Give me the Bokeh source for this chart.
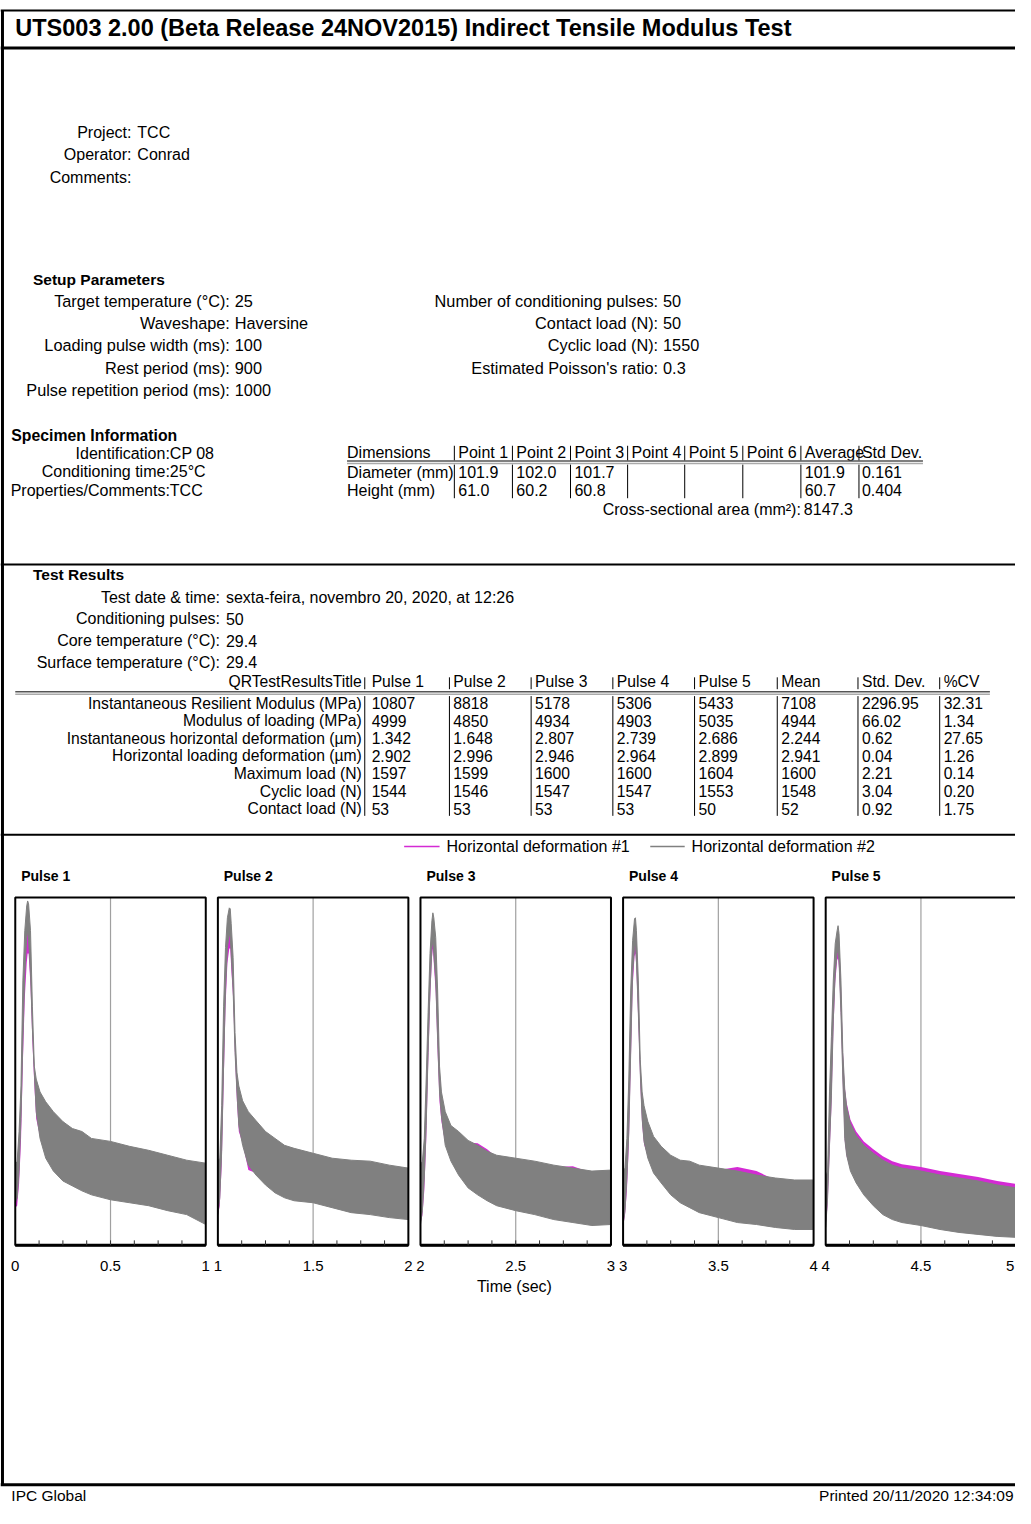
from bokeh.plotting import figure
from bokeh.models import Range1d
from bokeh.embed import file_html
from bokeh.resources import INLINE
from bokeh.core.properties import value

# ---------------- report text ----------------
report_title = "UTS003 2.00 (Beta Release 24NOV2015) Indirect Tensile Modulus Test"
project_labels = ["Project:", "Operator:", "Comments:"]
project_values = ["TCC", "Conrad", ""]

setup_left_labels = ["Target temperature (°C):", "Waveshape:", "Loading pulse width (ms):",
                     "Rest period (ms):", "Pulse repetition period (ms):"]
setup_left_values = ["25", "Haversine", "100", "900", "1000"]
setup_right_labels = ["Number of conditioning pulses:", "Contact load (N):", "Cyclic load (N):",
                      "Estimated Poisson's ratio:"]
setup_right_values = ["50", "50", "1550", "0.3"]

specimen_labels = ["Identification:", "Conditioning time:", "Properties/Comments:"]
specimen_values = ["CP 08", " 25°C", "TCC"]

dim_headers = ["Dimensions", "Point 1", "Point 2", "Point 3", "Point 4", "Point 5", "Point 6",
               "Average", "Std Dev."]
dim_rows = ["Diameter (mm)", "Height (mm)"]
dim_diameter = ["101.9", "102.0", "101.7", "", "", "", "101.9", "0.161"]
dim_height = ["61.0", "60.2", "60.8", "", "", "", "60.7", "0.404"]
area_label = "Cross-sectional area (mm²):"
area_value = "8147.3"

test_labels = ["Test date & time:", "Conditioning pulses:", "Core temperature (°C):",
               "Surface temperature (°C):"]
test_values = ["sexta-feira, novembro 20, 2020, at  12:26", "50", "29.4", "29.4"]

res_title = "QRTestResultsTitle"
res_cols = ["Pulse 1", "Pulse 2", "Pulse 3", "Pulse 4", "Pulse 5", "Mean", "Std. Dev.", "%CV"]
res_labels = ["Instantaneous Resilient Modulus (MPa)", "Modulus of loading (MPa)",
              "Instantaneous horizontal deformation (µm)", "Horizontal loading deformation (µm)",
              "Maximum load (N)", "Cyclic load (N)", "Contact load (N)"]
res_irm = ["10807", "8818", "5178", "5306", "5433", "7108", "2296.95", "32.31"]
res_mol = ["4999", "4850", "4934", "4903", "5035", "4944", "66.02", "1.34"]
res_ihd = ["1.342", "1.648", "2.807", "2.739", "2.686", "2.244", "0.62", "27.65"]
res_hld = ["2.902", "2.996", "2.946", "2.964", "2.899", "2.941", "0.04", "1.26"]
res_max = ["1597", "1599", "1600", "1600", "1604", "1600", "2.21", "0.14"]
res_cyc = ["1544", "1546", "1547", "1547", "1553", "1548", "3.04", "0.20"]
res_con = ["53", "53", "53", "53", "50", "52", "0.92", "1.75"]

legend_labels = ["Horizontal deformation #1", "Horizontal deformation #2"]
pulse_names = ["Pulse 1", "Pulse 2", "Pulse 3", "Pulse 4", "Pulse 5"]
x_label = "Time (sec)"
footer_left = "IPC Global"
footer_right = "Printed 20/11/2020 12:34:09"

# ---------------- pulse traces (deformation, um; envelopes of the noisy signal) ----------------
t_rel = [0.0, 0.01, 0.02, 0.03, 0.04, 0.05, 0.06, 0.065, 0.07, 0.08, 0.09, 0.10, 0.11, 0.13,
         0.16, 0.20, 0.25, 0.30, 0.35, 0.40, 0.50, 0.60, 0.70, 0.80, 0.90, 1.0]

p1_hd1_hi = [0.80, 0.84, 1.10, 1.50, 2.50, 3.00, 3.15, 3.20, 3.18, 2.95, 2.30, 1.78, 1.65, 1.52, 1.42, 1.32, 1.22, 1.15, 1.12, 1.05, 1.02, 0.97, 0.93, 0.88, 0.83, 0.80]
p1_hd1_lo = [0.38, 0.40, 0.62, 1.05, 1.85, 2.50, 2.85, 2.95, 2.95, 2.62, 2.05, 1.62, 1.28, 1.10, 0.90, 0.77, 0.67, 0.62, 0.57, 0.53, 0.48, 0.45, 0.42, 0.37, 0.33, 0.23]
p1_hd2_hi = [0.81, 0.85, 1.15, 1.61, 2.68, 3.18, 3.43, 3.48, 3.45, 3.18, 2.41, 1.81, 1.68, 1.55, 1.45, 1.35, 1.25, 1.18, 1.15, 1.08, 1.05, 1.00, 0.96, 0.91, 0.86, 0.83]
p1_hd2_lo = [0.43, 0.48, 0.75, 1.28, 2.08, 2.75, 3.11, 3.18, 3.08, 2.75, 2.18, 1.75, 1.35, 1.08, 0.88, 0.75, 0.65, 0.60, 0.55, 0.51, 0.46, 0.43, 0.40, 0.35, 0.31, 0.21]

p2_hd1_hi = [0.82, 0.86, 1.35, 2.30, 2.90, 3.20, 3.28, 3.28, 3.15, 2.85, 2.10, 1.72, 1.58, 1.43, 1.32, 1.23, 1.12, 1.05, 0.98, 0.95, 0.90, 0.86, 0.84, 0.83, 0.79, 0.76]
p2_hd1_lo = [0.30, 0.40, 0.80, 1.60, 2.40, 2.85, 3.00, 3.00, 2.80, 2.50, 1.90, 1.45, 1.15, 1.03, 0.76, 0.73, 0.63, 0.55, 0.50, 0.47, 0.45, 0.40, 0.35, 0.33, 0.30, 0.28]
p2_hd2_hi = [0.85, 0.88, 1.41, 2.41, 3.01, 3.31, 3.41, 3.40, 3.25, 2.91, 2.15, 1.75, 1.61, 1.46, 1.35, 1.26, 1.15, 1.08, 1.01, 0.98, 0.93, 0.88, 0.86, 0.85, 0.81, 0.78]
p2_hd2_lo = [0.31, 0.48, 0.95, 1.81, 2.58, 3.01, 3.15, 3.11, 2.95, 2.58, 1.95, 1.55, 1.21, 1.01, 0.81, 0.71, 0.61, 0.53, 0.48, 0.45, 0.43, 0.38, 0.33, 0.31, 0.28, 0.26]

p3_hd1_hi = [0.78, 0.83, 1.05, 1.62, 2.28, 2.88, 3.20, 3.26, 3.22, 3.02, 2.50, 1.78, 1.52, 1.32, 1.19, 1.13, 1.04, 1.03, 0.97, 0.89, 0.86, 0.83, 0.79, 0.80, 0.73, 0.74]
p3_hd1_lo = [0.22, 0.30, 0.55, 1.05, 1.80, 2.45, 2.90, 3.00, 2.85, 2.55, 1.95, 1.45, 1.25, 1.03, 0.87, 0.73, 0.60, 0.53, 0.47, 0.42, 0.37, 0.33, 0.28, 0.25, 0.22, 0.23]
p3_hd2_hi = [0.81, 0.85, 1.08, 1.68, 2.35, 2.95, 3.28, 3.36, 3.31, 3.11, 2.58, 1.81, 1.55, 1.35, 1.21, 1.15, 1.06, 1.01, 0.95, 0.91, 0.88, 0.85, 0.81, 0.78, 0.75, 0.76]
p3_hd2_lo = [0.21, 0.35, 0.68, 1.21, 1.95, 2.58, 3.01, 3.08, 2.95, 2.68, 2.08, 1.55, 1.31, 1.01, 0.85, 0.71, 0.58, 0.51, 0.45, 0.40, 0.35, 0.31, 0.26, 0.23, 0.20, 0.21]

p4_hd1_hi = [0.72, 0.76, 1.05, 1.62, 2.50, 3.00, 3.22, 3.22, 3.10, 2.62, 1.85, 1.52, 1.38, 1.22, 1.08, 0.98, 0.89, 0.84, 0.83, 0.79, 0.76, 0.79, 0.75, 0.66, 0.64, 0.64]
p4_hd1_lo = [0.20, 0.30, 0.55, 1.00, 1.80, 2.60, 2.92, 2.95, 2.78, 2.25, 1.65, 1.22, 1.02, 0.90, 0.75, 0.65, 0.53, 0.45, 0.40, 0.35, 0.30, 0.25, 0.23, 0.20, 0.18, 0.18]
p4_hd2_hi = [0.75, 0.78, 1.08, 1.68, 2.58, 3.08, 3.30, 3.31, 3.18, 2.68, 1.88, 1.55, 1.41, 1.25, 1.10, 1.00, 0.91, 0.86, 0.85, 0.81, 0.78, 0.75, 0.71, 0.68, 0.66, 0.66]
p4_hd2_lo = [0.21, 0.35, 0.68, 1.15, 1.95, 2.75, 3.01, 3.05, 2.88, 2.35, 1.75, 1.28, 1.05, 0.88, 0.73, 0.63, 0.51, 0.43, 0.38, 0.33, 0.28, 0.23, 0.21, 0.18, 0.16, 0.16]

p5_hd1_hi = [0.66, 0.73, 1.50, 2.05, 2.60, 2.98, 3.10, 3.15, 3.08, 2.65, 1.98, 1.60, 1.44, 1.27, 1.15, 1.05, 0.97, 0.90, 0.85, 0.82, 0.79, 0.75, 0.72, 0.69, 0.65, 0.62]
p5_hd1_lo = [0.20, 0.40, 0.90, 1.40, 2.15, 2.65, 2.88, 2.90, 2.80, 2.30, 1.62, 1.06, 0.90, 0.77, 0.65, 0.53, 0.42, 0.33, 0.28, 0.25, 0.22, 0.18, 0.15, 0.13, 0.11, 0.10]
p5_hd2_hi = [0.68, 0.75, 1.55, 2.11, 2.68, 3.05, 3.18, 3.23, 3.15, 2.68, 1.95, 1.58, 1.40, 1.23, 1.11, 1.01, 0.93, 0.86, 0.81, 0.78, 0.75, 0.71, 0.68, 0.65, 0.61, 0.58]
p5_hd2_lo = [0.18, 0.48, 1.01, 1.51, 2.28, 2.75, 2.95, 2.98, 2.88, 2.35, 1.68, 1.08, 0.91, 0.75, 0.63, 0.51, 0.40, 0.31, 0.26, 0.23, 0.20, 0.16, 0.13, 0.11, 0.09, 0.08]

tick_major = [0.0, 0.5, 1.0]
tick_minor = [0.125, 0.25, 0.375, 0.5, 0.625, 0.75, 0.875]

# ---------------- layout constants (reference page pixels) ----------------
REF_W, REF_H = 1031, 1524
W, H = 1015, 1508
FONT = "Liberation Sans"
MAGENTA = "#d42ad4"
GRAY = "#808080"
PANEL_LEFT0, PANEL_STEP, PX_PER_S = 15.0, 205.8, 193.5
PANEL_TOP, PANEL_BOT, PX_PER_UM = 906.5, 1258.0, 100.0

p = figure(width=W, height=H, x_range=Range1d(0, REF_W), y_range=Range1d(REF_H, 0),
           output_backend="svg", toolbar_location=None, x_axis_type=None, y_axis_type=None,
           min_border=0, min_border_left=0, min_border_right=0, min_border_top=0,
           min_border_bottom=0, outline_line_color=None, background_fill_color="white",
           border_fill_color="white")
p.grid.visible = False


def put(x, y, s, size=16, align="left", bold=False, color="black", xr="default", yr="default"):
    p.text(x=[x], y=[y], text=[s], text_font=value(FONT), text_font_size=f"{size}px",
           text_align=align, text_baseline="middle",
           text_font_style="bold" if bold else "normal", text_color=color,
           x_range_name=xr, y_range_name=yr)


def seg(x0, y0, x1, y1, color="black", width=1, xr="default", yr="default"):
    p.segment(x0=[x0], y0=[y0], x1=[x1], y1=[y1], line_color=color, line_width=width,
              x_range_name=xr, y_range_name=yr)


# page frame
seg(0, 10, REF_W, 10, width=2)
seg(0, 48, REF_W, 48, width=3)
seg(2, 10, 2, 1500, width=3)
seg(0, 570, REF_W, 570, width=2)
seg(0, 843, REF_W, 843, width=2)
seg(0, 1500, REF_W, 1500, width=3)

put(15, 28, report_title, size=23.5, bold=True)

for i, (lab, val) in enumerate(zip(project_labels, project_values)):
    y = 133 + 23 * i
    put(133, y, lab, align="right")
    put(139, y, val)

put(33, 282, "Setup Parameters", bold=True, size=15.5)
for i, (lab, val) in enumerate(zip(setup_left_labels, setup_left_values)):
    y = 304 + 22.3 * i
    put(233, y, lab, align="right", size=16.3)
    put(238, y, val, size=16.3)
for i, (lab, val) in enumerate(zip(setup_right_labels, setup_right_values)):
    y = 304 + 22.3 * i
    put(668, y, lab, align="right", size=16.3)
    put(673, y, val, size=16.3)

put(11, 440, "Specimen Information", bold=True, size=15.8)
for i, (lab, val) in enumerate(zip(specimen_labels, specimen_values)):
    y = 458 + 18.5 * i
    put(172, y, lab, align="right")
    put(172, y, val)

dim_text_x = [352, 465, 524, 583, 641, 699, 758, 817, 875]
dim_bar_x = [461, 520, 579, 637, 695, 754, 813, 872]
for x, h in zip(dim_text_x, dim_headers):
    put(x, 457, h)
for bx in dim_bar_x:
    seg(bx, 450, bx, 465)
    seg(bx, 469, bx, 503)
seg(352, 465.5, 937, 465.5, color="#555555", width=1.5)
seg(352, 468, 937, 468, color="#aaaaaa", width=1.5)
for r, (lab, vals) in enumerate(zip(dim_rows, [dim_diameter, dim_height])):
    y = 477 + 18 * r
    put(352, y, lab)
    for x, v in zip(dim_text_x[1:], vals):
        put(x, y, v)
put(813, 514, area_label, align="right")
put(816, 514, area_value)

put(33, 580, "Test Results", bold=True, size=15.5)
for i, (lab, val) in enumerate(zip(test_labels, test_values)):
    y = 603 + 22 * i
    put(223, y, lab, align="right")
    put(229, y, val)

res_text_x = [377, 460, 543, 626, 709, 793, 875, 958]
res_bar_x = [370, 456, 539, 622, 705, 789, 871, 954]
put(367, 688, res_title, align="right", size=15.7)
for x, h in zip(res_text_x, res_cols):
    put(x, 688, h, size=15.7)
for bx in res_bar_x:
    seg(bx, 684, bx, 696)
    seg(bx, 703, bx, 824)
seg(15, 698.5, 1005, 698.5, color="#555555", width=1.5)
seg(15, 701, 1005, 701, color="#aaaaaa", width=1.5)
res_rows = [res_irm, res_mol, res_ihd, res_hld, res_max, res_cyc, res_con]
for r, (lab, vals) in enumerate(zip(res_labels, res_rows)):
    y = 710 + 17.8 * r
    put(367, y, lab, align="right", size=15.7)
    for x, v in zip(res_text_x, vals):
        put(x, y, v, size=15.7)

# legend
seg(410, 855, 446, 855, color=MAGENTA, width=1.5)
put(453, 855, legend_labels[0])
seg(660, 855, 695, 855, color=GRAY, width=1.5)
put(702, 855, legend_labels[1])

# ---------------- pulse panels ----------------
ymax = (PANEL_BOT - PANEL_TOP) / PX_PER_UM
p.extra_y_ranges = {"dy": Range1d(start=(PANEL_BOT - REF_H) / PX_PER_UM, end=PANEL_BOT / PX_PER_UM)}
label_y = (PANEL_BOT - 1279.0) / PX_PER_UM
pulses = [
    (p1_hd1_hi, p1_hd1_lo, p1_hd2_hi, p1_hd2_lo),
    (p2_hd1_hi, p2_hd1_lo, p2_hd2_hi, p2_hd2_lo),
    (p3_hd1_hi, p3_hd1_lo, p3_hd2_hi, p3_hd2_lo),
    (p4_hd1_hi, p4_hd1_lo, p4_hd2_hi, p4_hd2_lo),
    (p5_hd1_hi, p5_hd1_lo, p5_hd2_hi, p5_hd2_lo),
]
for k, (h1hi, h1lo, h2hi, h2lo) in enumerate(pulses):
    left = PANEL_LEFT0 + PANEL_STEP * k
    name = f"t{k}"
    start = k - left / PX_PER_S
    p.extra_x_ranges[name] = Range1d(start=start, end=start + REF_W / PX_PER_S)
    put(left + 6, 885, pulse_names[k], size=14, bold=True)
    tt = [k + t for t in t_rel]
    seg(k + 0.5, 0, k + 0.5, ymax, color="#a0a0a0", width=1.2, xr=name, yr="dy")
    p.varea(x=tt, y1=h1lo, y2=h1hi, fill_color=MAGENTA, x_range_name=name, y_range_name="dy")
    p.varea(x=tt, y1=h2lo, y2=h2hi, fill_color=GRAY, x_range_name=name, y_range_name="dy")
    p.line(x=tt, y=h2hi, line_color=GRAY, line_width=1, x_range_name=name, y_range_name="dy")
    p.line(x=tt, y=h2lo, line_color=GRAY, line_width=1, x_range_name=name, y_range_name="dy")
    p.quad(left=[k], right=[k + 1], bottom=[0], top=[ymax], fill_color=None,
           line_color="black", line_width=2, x_range_name=name, y_range_name="dy")
    seg(k, 0, k + 1, 0, width=3, xr=name, yr="dy")
    for m in tick_minor:
        seg(k + m, 0, k + m, 0.05, color="#333333", width=1, xr=name, yr="dy")
    for tm in tick_major:
        lab = f"{k + tm:g}"
        if k == len(pulses) - 1 and tm == tick_major[-1]:
            put(k + tm - 0.01, label_y, lab, size=15, align="right", xr=name, yr="dy")
        else:
            put(k + tm, label_y, lab, size=15, align="center", xr=name, yr="dy")

put(522, 1300, x_label, align="center")
put(11, 1511, footer_left, size=15.5)
put(1029, 1511, footer_right, size=15.5, align="right")

open("out.html", "w").write(file_html(p, INLINE))
